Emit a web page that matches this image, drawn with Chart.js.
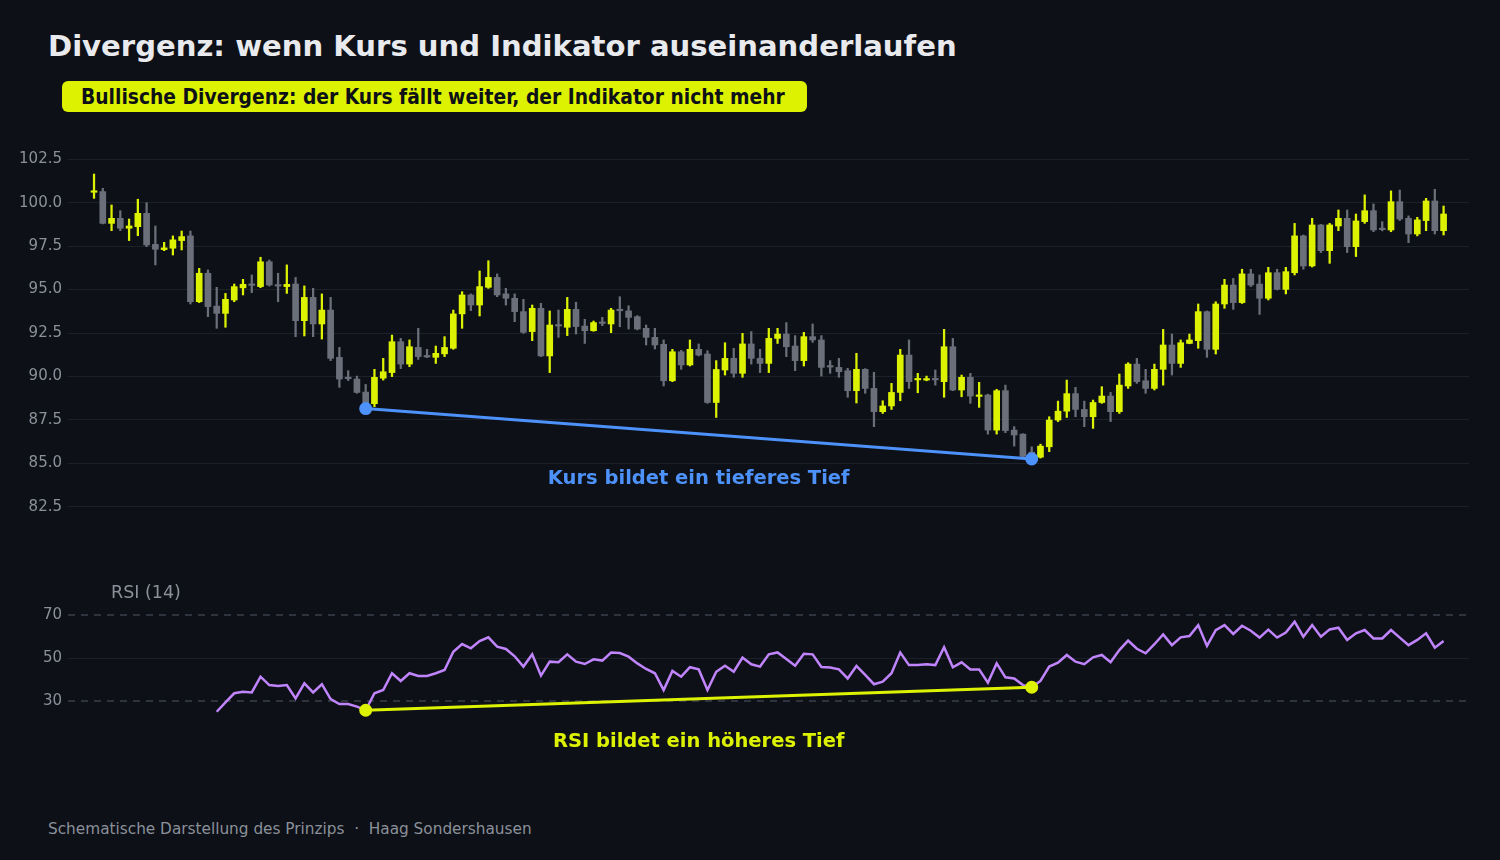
<!DOCTYPE html>
<html lang="de">
<head>
<meta charset="utf-8">
<title>Divergenz</title>
<script src="https://cdn.jsdelivr.net/npm/chart.js@4.4.1/dist/chart.umd.min.js"></script>
<style>
  html, body { margin: 0; padding: 0; }
  body {
    width: 1500px; height: 860px; position: relative; overflow: hidden;
    background: #0d1017; font-family: "DejaVu Sans", sans-serif;
  }
  #title {
    position: absolute; left: 48px; top: 28px; line-height: 36px;
    font-size: 29.1px; font-weight: bold; color: #e8eaee; white-space: nowrap;
  }
  #badge {
    position: absolute; left: 62px; top: 81px; width: 745px; height: 31px;
    background: #ddf200; border-radius: 6px; box-sizing: border-box;
    padding-left: 19px; display: flex; align-items: center;
    font-family: "DejaVu Sans Condensed", "DejaVu Sans", sans-serif; font-stretch: condensed;
    font-size: 20.8px; font-weight: bold; color: #0d1017; white-space: nowrap;
  }
  #rsiLabel {
    position: absolute; left: 111px; top: 582px; line-height: 20px;
    font-size: 17.5px; color: #8b909a; z-index: 2;
  }
  #footer {
    position: absolute; left: 48px; top: 819px; line-height: 20px;
    font-size: 15.3px; color: #8b909a; white-space: pre;
  }
  #priceBox { position: absolute; left: 0; top: 120px; width: 1500px; height: 420px; }
  #rsiBox { position: absolute; left: 0; top: 570px; width: 1500px; height: 200px; }
</style>
</head>
<body>
<div id="title">Divergenz: wenn Kurs und Indikator auseinanderlaufen</div>
<div id="badge">Bullische Divergenz: der Kurs fällt weiter, der Indikator nicht mehr</div>
<div id="priceBox"><canvas id="priceChart"></canvas></div>
<div id="rsiLabel">RSI (14)</div>
<div id="rsiBox"><canvas id="rsiChart"></canvas></div>
<div id="footer">Schematische Darstellung des Prinzips  ·  Haag Sondershausen</div>

<script>
// candles (one per session)
const open = [100.6, 100.64, 98.81, 99.1, 98.53, 98.62, 99.39, 97.6, 97.3, 97.38,
  97.82, 98.09, 94.3, 95.94, 94.05, 93.63, 94.4, 95.1, 95.27, 95.17,
  96.6, 95.26, 95.17, 95.32, 93.21, 94.55, 93.02, 93.82, 91.1, 89.9,
  89.85, 89.1, 88.43, 89.9, 90.22, 92.0, 90.71, 91.67, 91.14, 91.1,
  91.3, 91.62, 93.6, 94.69, 94.11, 95.13, 95.7, 94.75, 94.5, 93.73,
  92.58, 93.92, 91.18, 92.92, 92.83, 93.86, 92.9, 92.63, 93.07, 93.02,
  93.8, 93.77, 93.44, 92.77, 92.25, 91.85, 89.75, 91.42, 90.66, 91.56,
  91.29, 88.5, 90.37, 91.04, 90.18, 91.87, 91.04, 90.75, 92.19, 92.44,
  91.75, 90.91, 92.29, 92.1, 90.56, 90.52, 90.33, 89.18, 90.41, 89.31,
  87.97, 88.3, 89.08, 91.23, 89.8, 89.79, 89.85, 89.7, 91.71, 89.22,
  89.95, 88.85, 88.93, 86.91, 89.18, 86.91, 86.68, 85.64, 85.35, 85.95,
  87.49, 88.0, 89.01, 88.1, 87.68, 88.5, 88.87, 87.97, 89.45, 90.71,
  89.75, 89.31, 90.41, 91.81, 90.75, 91.9, 92.06, 93.73, 91.56, 94.17,
  95.26, 94.25, 95.9, 95.32, 94.5, 95.97, 95.01, 95.97, 98.09, 96.36,
  98.72, 97.24, 98.66, 99.1, 97.47, 98.91, 99.54, 98.48, 98.43, 100.06,
  99.1, 98.2, 98.97, 100.1, 98.39];
const high = [101.65, 100.83, 99.87, 99.54, 99.06, 100.2, 100.0, 98.66, 97.72, 98.09,
  98.37, 98.37, 96.22, 96.13, 95.13, 94.78, 95.32, 95.59, 95.84, 96.86,
  96.7, 95.94, 96.42, 95.7, 95.21, 95.07, 94.75, 94.55, 91.67, 90.33,
  90.02, 89.54, 90.41, 91.04, 92.38, 92.19, 92.1, 92.77, 91.56, 91.75,
  92.29, 93.82, 94.88, 94.75, 96.07, 96.66, 95.9, 95.07, 94.75, 94.44,
  94.11, 94.21, 93.77, 93.82, 94.55, 94.27, 93.29, 93.19, 93.4, 93.92,
  94.59, 94.07, 93.5, 92.96, 92.77, 92.1, 91.56, 91.5, 92.1, 91.87,
  91.48, 90.91, 91.94, 91.62, 92.48, 92.58, 91.56, 92.77, 92.77, 93.1,
  92.35, 92.54, 93.02, 92.35, 90.91, 91.04, 90.47, 91.33, 90.45, 90.24,
  88.6, 89.6, 91.56, 92.1, 90.18, 90.02, 90.37, 92.71, 92.19, 90.08,
  90.18, 89.66, 88.98, 89.26, 89.5, 87.11, 86.7, 85.95, 86.1, 87.68,
  88.58, 89.79, 89.37, 88.58, 88.64, 89.41, 89.08, 90.14, 90.79, 91.04,
  90.41, 90.71, 92.71, 92.44, 92.1, 92.44, 94.17, 93.77, 94.3, 95.59,
  95.64, 96.17, 96.17, 95.84, 96.28, 96.17, 96.28, 98.81, 98.14, 99.1,
  98.75, 98.81, 99.58, 99.58, 99.35, 100.45, 99.93, 98.91, 100.68, 100.73,
  99.24, 99.16, 100.25, 100.77, 99.81];
const low = [100.25, 98.78, 98.39, 98.39, 97.82, 98.1, 97.47, 96.42, 97.24, 96.99,
  97.28, 94.17, 94.25, 93.44, 92.77, 92.83, 94.3, 94.69, 94.82, 95.11,
  95.2, 94.3, 94.78, 92.29, 92.33, 92.29, 92.15, 90.91, 89.37, 89.76,
  89.03, 88.15, 88.26, 89.79, 89.99, 90.45, 90.56, 90.98, 91.08, 90.75,
  91.14, 91.56, 92.77, 93.79, 93.48, 95.07, 94.59, 94.11, 93.15, 92.48,
  92.06, 91.14, 90.22, 92.25, 92.35, 92.44, 91.9, 92.6, 92.92, 92.52,
  92.86, 92.73, 92.68, 91.81, 91.58, 89.45, 89.7, 90.41, 90.6, 91.18,
  88.45, 87.64, 90.08, 89.95, 89.95, 90.71, 90.22, 90.22, 91.9, 91.14,
  90.33, 90.6, 91.96, 90.02, 90.18, 89.95, 88.8, 88.47, 89.03, 87.11,
  87.87, 88.1, 88.6, 89.31, 89.06, 89.75, 89.5, 88.8, 89.18, 88.83,
  88.45, 88.22, 86.68, 86.68, 86.76, 85.99, 85.38, 85.25, 85.3, 85.67,
  87.4, 87.64, 87.68, 87.11, 87.01, 88.45, 87.4, 87.87, 89.31, 89.6,
  89.03, 89.22, 89.5, 90.08, 90.52, 91.88, 91.62, 91.1, 91.29, 93.92,
  93.86, 94.2, 95.17, 93.57, 94.4, 94.98, 94.75, 95.84, 96.17, 96.3,
  97.13, 96.51, 98.39, 97.13, 96.9, 98.81, 98.33, 98.38, 98.33, 98.97,
  97.7, 98.09, 98.39, 98.2, 98.14];
const close = [100.65, 98.81, 99.1, 98.53, 98.66, 99.39, 97.57, 97.32, 97.4, 97.86,
  98.05, 94.3, 95.94, 94.02, 93.63, 94.44, 95.17, 95.3, 95.24, 96.6,
  95.26, 95.2, 95.3, 93.21, 94.55, 93.02, 93.82, 91.04, 89.85, 89.87,
  89.08, 88.43, 89.95, 90.27, 92.0, 90.71, 91.71, 91.14, 91.12, 91.33,
  91.67, 93.6, 94.69, 94.11, 95.17, 95.7, 94.69, 94.5, 93.73, 92.54,
  93.92, 91.18, 92.96, 92.9, 93.86, 92.87, 92.63, 93.1, 93.05, 93.82,
  93.78, 93.4, 92.73, 92.25, 91.81, 89.75, 91.42, 90.66, 91.56, 91.23,
  88.5, 90.4, 91.04, 90.18, 91.87, 91.04, 90.75, 92.19, 92.44, 91.71,
  90.91, 92.29, 92.1, 90.52, 90.54, 90.27, 89.18, 90.41, 89.31, 87.97,
  88.3, 89.08, 91.23, 89.7, 89.85, 89.85, 89.8, 91.71, 89.22, 89.95,
  88.87, 88.9, 86.91, 89.18, 86.88, 86.63, 85.4, 85.37, 85.99, 87.49,
  88.0, 89.01, 88.1, 87.68, 88.5, 88.87, 87.97, 89.5, 90.71, 89.7,
  89.31, 90.41, 91.81, 90.75, 91.94, 92.1, 93.73, 91.56, 94.17, 95.26,
  94.25, 95.9, 95.26, 94.5, 95.97, 95.01, 96.03, 98.09, 96.36, 98.72,
  97.24, 98.72, 99.1, 97.47, 98.95, 99.54, 98.43, 98.45, 100.06, 99.06,
  98.2, 99.01, 100.1, 98.39, 99.35];

// RSI(14) starts at candle 14
const rsiStart = 14;
const rsi = [25.0, 29.4, 33.6, 34.3, 34.0, 41.3, 37.4, 37.0, 37.4, 31.2,
  38.2, 34.0, 37.8, 30.9, 28.6, 28.6, 27.4, 25.7, 33.6, 35.1,
  42.9, 39.3, 42.9, 41.6, 41.6, 42.9, 44.4, 52.9, 56.5, 54.5,
  57.9, 59.6, 55.3, 54.2, 50.8, 46.0, 51.7, 41.8, 48.3, 48.0,
  51.7, 48.3, 47.2, 49.4, 48.8, 52.5, 52.3, 50.6, 47.5, 44.9,
  42.9, 35.1, 44.0, 41.3, 45.7, 44.7, 35.1, 43.6, 46.4, 43.6,
  50.2, 47.1, 46.0, 51.7, 52.6, 49.5, 46.4, 52.0, 51.7, 45.8,
  45.6, 44.7, 40.5, 46.3, 42.1, 37.8, 39.0, 42.9, 52.5, 46.7,
  46.7, 47.1, 46.7, 55.0, 45.7, 48.0, 44.7, 44.7, 38.5, 47.5,
  41.0, 40.5, 37.4, 36.4, 39.3, 46.0, 47.8, 51.4, 48.3, 47.1,
  50.3, 51.4, 48.0, 53.7, 58.1, 54.3, 52.2, 56.4, 61.0, 56.0,
  59.6, 60.2, 65.3, 55.6, 63.0, 65.3, 61.2, 65.0, 62.7, 59.5,
  63.2, 59.5, 61.8, 66.9, 59.9, 65.3, 59.9, 63.3, 64.1, 58.4,
  61.5, 63.0, 59.1, 59.1, 63.0, 59.5, 56.0, 58.4, 61.5, 54.8,
  57.9];

const priceTicks = [82.5, 85, 87.5, 90, 92.5, 95, 97.5, 100, 102.5];
const rsiTicks = [30, 50, 70];
const rsiLevels = [70, 30];
// the two swing lows that get connected
const swingLows = [31, 107];

const YELLOW = '#ddf200';
const GREY = '#6b6f7a';
const BLUE = '#4d92fb';
const PURPLE = '#c084fc';
const GRID = '#1c2029';
const TICK = '#8b909a';
const X_MIN = -2.97, X_MAX = 156.9;

const idx = close.map((c, i) => i);
const candleColor = idx.map(i => close[i] >= open[i] ? YELLOW : GREY);

// little helper plugin: text under the middle of a connecting line
function midLabel(id, datasetIndex, text, color, offset) {
    return {
        id: id,
        afterDatasetsDraw(chart) {
            const pts = chart.getDatasetMeta(datasetIndex).data;
            if (pts.length < 2) return;
            const x = (pts[0].x + pts[1].x) / 2;
            const y = (pts[0].y + pts[1].y) / 2 + offset;
            const ctx = chart.ctx;
            ctx.save();
            ctx.font = 'bold 19.5px "DejaVu Sans", sans-serif';
            ctx.fillStyle = color;
            ctx.textAlign = 'center';
            ctx.textBaseline = 'middle';
            ctx.fillText(text, x, y);
            ctx.restore();
        }
    };
}

Chart.defaults.font.family = '"DejaVu Sans", sans-serif';
Chart.defaults.color = TICK;

const xScale = { type: 'linear', min: X_MIN, max: X_MAX, offset: false, display: false };

new Chart(document.getElementById('priceChart'), {
    type: 'bar',
    data: {
        datasets: [{
            type: 'line',
            data: swingLows.map(i => ({ x: i, y: low[i] })),
            borderColor: BLUE,
            backgroundColor: BLUE,
            borderWidth: 3,
            pointRadius: 5,
            pointHoverRadius: 5,
            order: 0
        }, {
            data: idx.map(i => ({ x: i, y: [open[i], close[i]] })),
            backgroundColor: candleColor,
            barThickness: 6,
            minBarLength: 1.5,
            grouped: false,
            order: 1
        }, {
            data: idx.map(i => ({ x: i, y: [low[i], high[i]] })),
            backgroundColor: candleColor,
            barThickness: 1.6,
            grouped: false,
            order: 2
        }]
    },
    options: {
        responsive: true,
        maintainAspectRatio: false,
        animation: false,
        layout: { padding: { top: 21.9, bottom: 15.9, right: 31, left: 0 } },
        plugins: { legend: { display: false }, tooltip: { enabled: false } },
        scales: {
            x: xScale,
            y: {
                min: 81.5,
                max: 103.5,
                afterBuildTicks: scale => { scale.ticks = priceTicks.map(v => ({ value: v })); },
                afterFit: scale => { scale.width = 68; },
                ticks: {
                    color: TICK,
                    padding: 6,
                    font: { size: 15 },
                    callback: v => v.toFixed(1)
                },
                grid: { color: GRID, drawTicks: false },
                border: { display: false }
            }
        }
    },
    plugins: [midLabel('kursLabel', 0, 'Kurs bildet ein tieferes Tief', BLUE, 45)]
});

new Chart(document.getElementById('rsiChart'), {
    type: 'line',
    data: {
        datasets: [{
            data: swingLows.map(i => ({ x: i, y: rsi[i - rsiStart] })),
            borderColor: YELLOW,
            backgroundColor: YELLOW,
            borderWidth: 3,
            pointRadius: 5,
            pointHoverRadius: 5,
            order: 0
        }, {
            data: rsi.map((v, k) => ({ x: k + rsiStart, y: v })),
            borderColor: PURPLE,
            borderWidth: 2.5,
            pointRadius: 0,
            tension: 0,
            order: 1
        }].concat(rsiLevels.map(level => ({
            data: [{ x: X_MIN, y: level }, { x: X_MAX, y: level }],
            borderColor: '#3a3f4b',
            borderWidth: 1.3,
            borderDash: [7, 6],
            pointRadius: 0,
            order: 3
        })))
    },
    options: {
        responsive: true,
        maintainAspectRatio: false,
        animation: false,
        layout: { padding: { top: 23.5, bottom: 26, right: 31, left: 0 } },
        plugins: { legend: { display: false }, tooltip: { enabled: false } },
        scales: {
            x: xScale,
            y: {
                min: 10,
                max: 80,
                afterBuildTicks: scale => { scale.ticks = rsiTicks.map(v => ({ value: v })); },
                afterFit: scale => { scale.width = 68; },
                ticks: { color: TICK, padding: 6, font: { size: 15 } },
                grid: {
                    color: c => (c.tick && c.tick.value === 50) ? GRID : 'rgba(0,0,0,0)',
                    drawTicks: false
                },
                border: { display: false }
            }
        }
    },
    plugins: [midLabel('rsiText', 0, 'RSI bildet ein höheres Tief', YELLOW, 43)]
});
</script>
</body>
</html>
